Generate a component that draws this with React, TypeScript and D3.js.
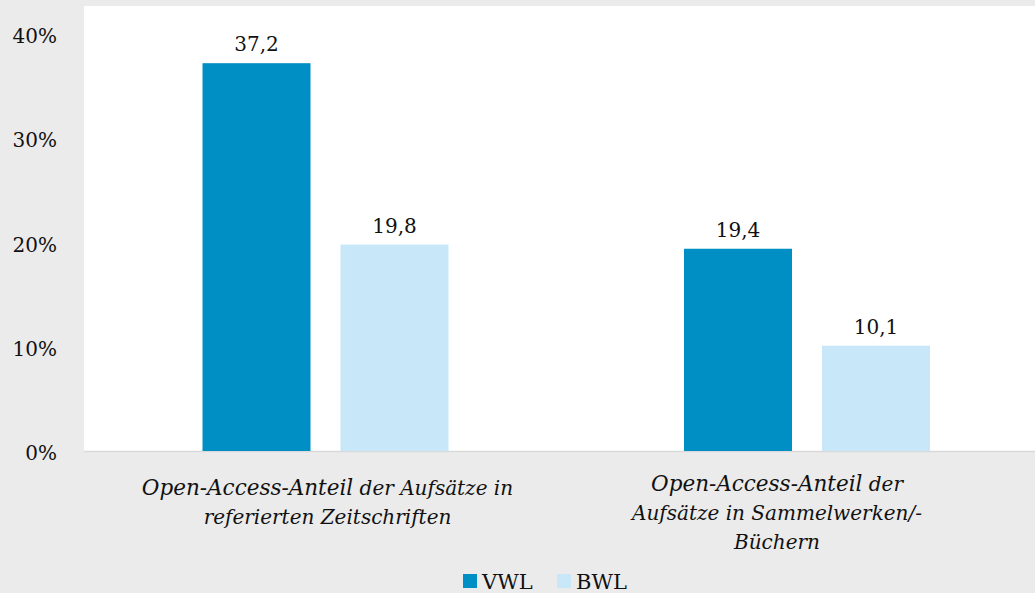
import React from "react";
import * as d3 from "d3";

const categories = [
  ["Open-Access-Anteil| der Aufsätze in", "referierten Zeitschriften"],
  ["Open-Access-Anteil| der", "Aufsätze in Sammelwerken/-", "Büchern"],
];
const seriesNames = ["VWL", "BWL"];
const vwl = [37.2, 19.4];
const bwl = [19.8, 10.1];
const yTicks = [0, 10, 20, 30, 40];
const colors = ["#008fc4", "#c8e7f8"];

export default function App() {
  const W = 1035, H = 593;
  const plotLeft = 84, plotTop = 6, y0 = 451;
  const values = [vwl, bwl];
  const y = d3.scaleLinear().domain([0, 40]).range([y0, 34]);
  const x = d3.scaleBand<number>().domain([0, 1]).range([84.75, 1047.75]);
  const inner = d3.scaleBand<number>().domain([0, 1]).range([-123, 123]).paddingInner(0.2174);
  const labelShift = [2, -30];
  const labelTop = [495, 491];
  const font = "'DejaVu Serif', serif";
  const fmt = (v: number) => v.toFixed(1).replace(".", ",");
  return (
    <svg width={W} height={H} style={{ position: "absolute", left: 0, top: 0, display: "block" }}>
      <rect x={0} y={0} width={W} height={H} fill="#ebebeb" />
      <rect x={plotLeft} y={plotTop} width={W - plotLeft} height={y0 - plotTop} fill="#ffffff" />
      <line x1={plotLeft} x2={W} y1={y0 + 0.5} y2={y0 + 0.5} stroke="#d9d9d9" strokeWidth={1.5} />
      {yTicks.map((t) => (
        <text key={t} x={57} y={y(t) + 9} textAnchor="end" fontFamily={font} fontSize={20} fill="#111">
          {t}%
        </text>
      ))}
      {categories.map((c, ci) =>
        values.map((s, si) => {
          const cx = (x(ci) as number) + x.bandwidth() / 2;
          const bx = cx + (inner(si) as number);
          const bw = inner.bandwidth();
          return (
            <g key={`${ci}-${si}`}>
              <rect x={bx} y={y(s[ci])} width={bw} height={y0 - y(s[ci])} fill={colors[si]} />
              <text x={bx + bw / 2} y={y(s[ci]) - 12} textAnchor="middle" fontFamily={font} fontSize={20} fill="#111">
                {fmt(s[ci])}
              </text>
            </g>
          );
        })
      )}
      {categories.map((lines, ci) => {
        const cx = (x(ci) as number) + x.bandwidth() / 2 + labelShift[ci];
        return (
          <text key={ci} textAnchor="middle" fontFamily={font} fontStyle="italic" fontSize={20} fill="#111">
            {lines.map((ln, li) => {
              const parts = ln.split("|");
              return (
                <tspan key={li} x={cx} y={labelTop[ci] + li * 29}>
                  {parts.length > 1 ? (
                    <>
                      <tspan fontSize={21.5}>{parts[0]}</tspan>
                      <tspan>{parts[1]}</tspan>
                    </>
                  ) : (
                    ln
                  )}
                </tspan>
              );
            })}
          </text>
        );
      })}
      {seriesNames.map((n, i) => (
        <g key={n} transform={`translate(${463 + i * 94},0)`}>
          <rect x={0} y={574} width={14} height={14} fill={colors[i]} />
          <text x={19} y={589} fontFamily={font} fontSize={21} fill="#111">
            {n}
          </text>
        </g>
      ))}
    </svg>
  );
}
